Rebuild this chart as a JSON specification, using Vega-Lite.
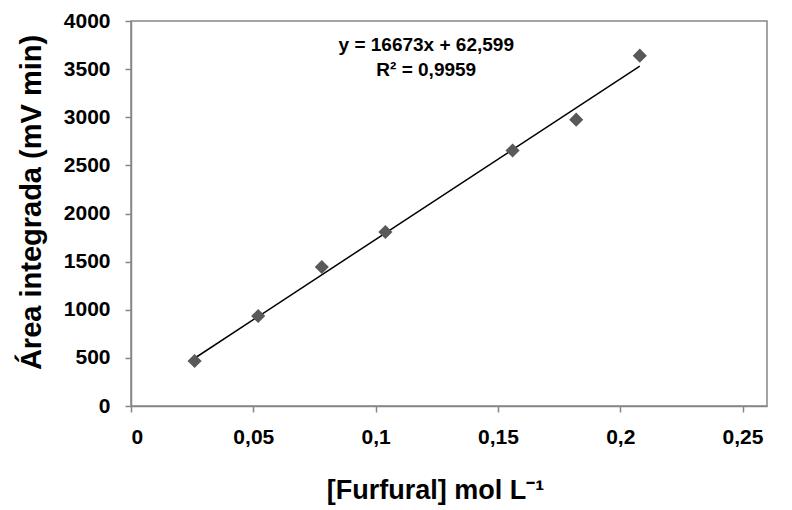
{
  "$schema": "https://vega.github.io/schema/vega-lite/v6.json",
  "width": 636,
  "height": 385,
  "autosize": {"type": "none"},
  "padding": {"left": 131, "top": 21, "right": 25, "bottom": 104},
  "background": "white",
  "config": {
    "locale": {"number": {"decimal": ",", "thousands": "", "grouping": [3], "currency": ["", ""]}},
    "view": {"stroke": "#868686", "strokeWidth": 1.5},
    "font": "Liberation Sans",
    "axis": {
      "grid": false,
      "domainColor": "#868686",
      "domainWidth": 1.5,
      "tickColor": "#868686",
      "tickWidth": 1.5,
      "tickSize": 6,
      "labelFont": "Liberation Sans",
      "labelFontWeight": "bold",
      "labelFontSize": 21,
      "labelColor": "black",
      "titleFont": "Liberation Sans",
      "titleFontWeight": "bold",
      "titleColor": "black"
    }
  },
  "datasets": {
    "points": [
      {"x": 0.026, "y": 467},
      {"x": 0.052, "y": 935},
      {"x": 0.078, "y": 1444},
      {"x": 0.104, "y": 1808},
      {"x": 0.156, "y": 2655},
      {"x": 0.182, "y": 2975},
      {"x": 0.208, "y": 3640}
    ],
    "trend": [
      {"x": 0.026, "y": 496.1},
      {"x": 0.208, "y": 3530.6}
    ],
    "labels": [
      {"x": 0.1207, "y": 3751, "t": "y = 16673x + 62,599"},
      {"x": 0.1207, "y": 3496, "t": "R² = 0,9959"}
    ]
  },
  "layer": [
    {
      "data": {"name": "trend"},
      "mark": {"type": "line", "color": "black", "strokeWidth": 1.5},
      "encoding": {
        "x": {"field": "x", "type": "quantitative", "scale": {"domain": [0, 0.25]},
          "axis": {"values": [0, 0.05, 0.1, 0.15, 0.2, 0.25], "format": "~g", "title": "[Furfural] mol L⁻¹", "titleFontSize": 27, "labelPadding": 14, "titlePadding": 30, "titleX": 304}},
        "y": {"field": "y", "type": "quantitative", "scale": {"domain": [0, 4000]},
          "axis": {"values": [0, 500, 1000, 1500, 2000, 2500, 3000, 3500, 4000], "format": "d", "title": "Área integrada (mV min)", "titleFontSize": 29, "labelPadding": 15, "titlePadding": 17, "titleY": 181}}
      }
    },
    {
      "data": {"name": "points"},
      "mark": {"type": "point", "shape": "diamond", "filled": true, "color": "#595959", "opacity": 1, "size": 200},
      "encoding": {
        "x": {"field": "x", "type": "quantitative"},
        "y": {"field": "y", "type": "quantitative"}
      }
    },
    {
      "data": {"name": "labels"},
      "mark": {"type": "text", "font": "Liberation Sans", "fontWeight": "bold", "fontSize": 19, "color": "black", "align": "center", "baseline": "middle"},
      "encoding": {
        "x": {"field": "x", "type": "quantitative"},
        "y": {"field": "y", "type": "quantitative"},
        "text": {"field": "t"}
      }
    }
  ]
}
